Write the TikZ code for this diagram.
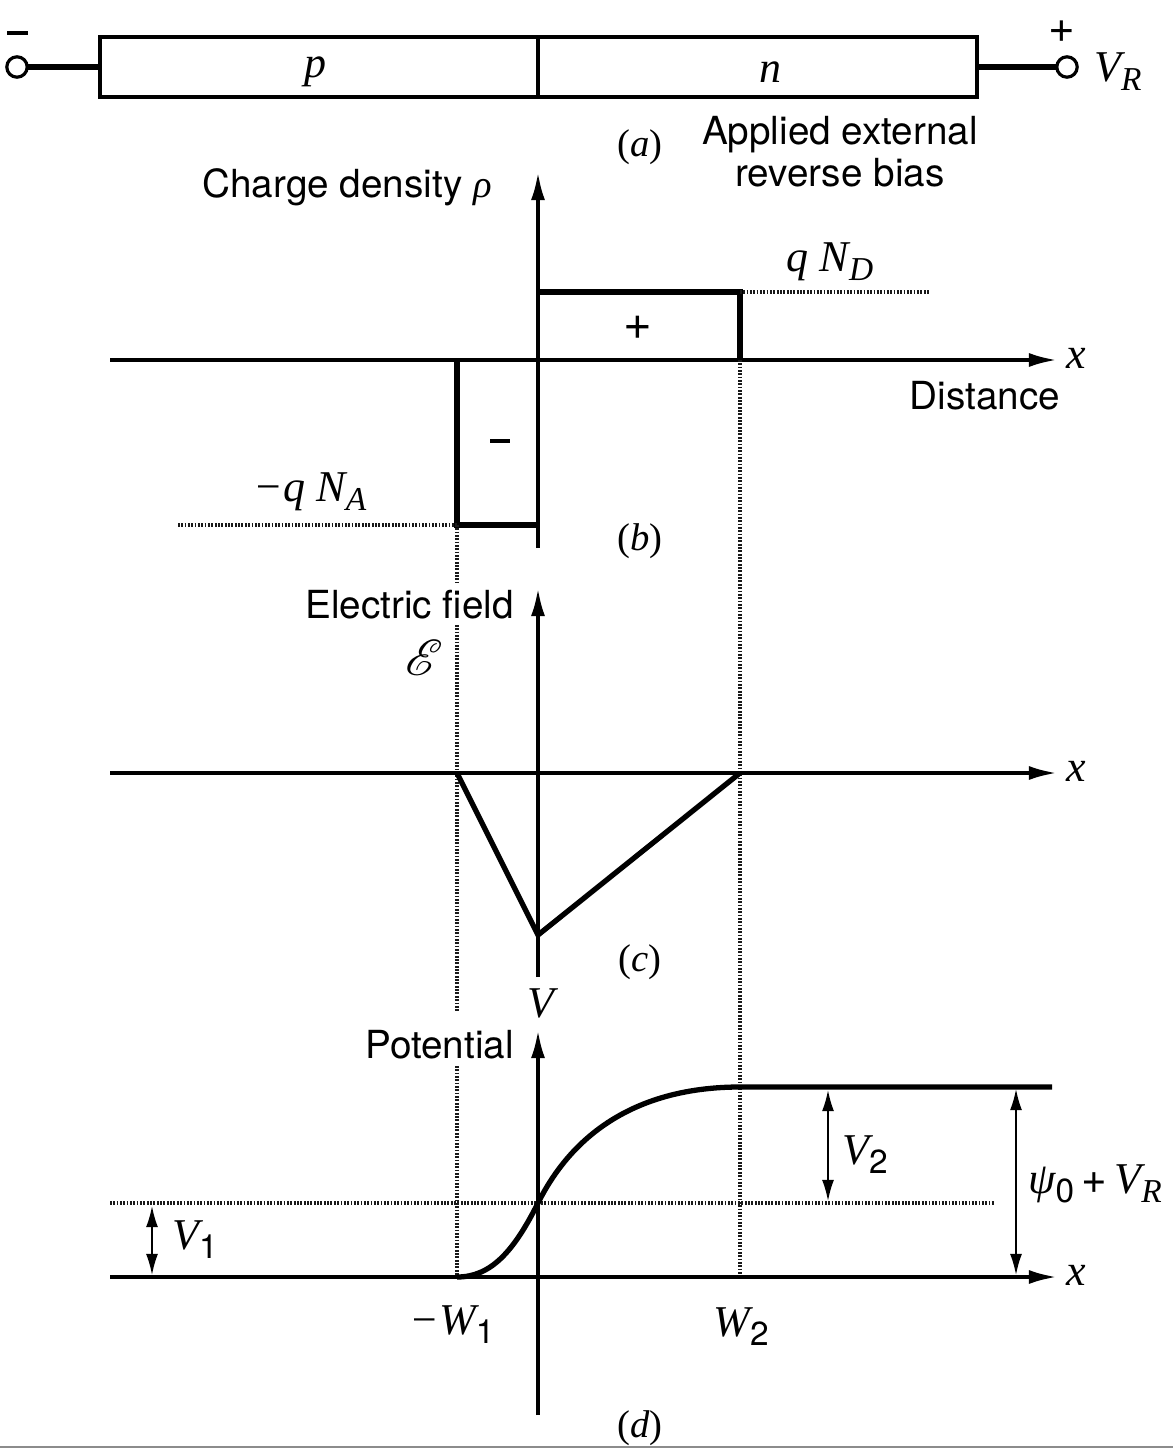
\documentclass[tikz,border=0pt]{standalone}
\usepackage{fontspec}
\setmainfont{TeX Gyre Heros}
\newfontfamily\tms{Liberation Serif}[ItalicFont={Liberation Serif Italic}]
\usepackage{mathrsfs}
\usetikzlibrary{arrows.meta}
\newcommand{\subi}[1]{\raisebox{-0.45ex}{\fontsize{9.5}{10}\selectfont #1}}
\newcommand{\subr}[1]{\raisebox{-0.45ex}{\normalfont\fontsize{9.5}{10}\selectfont #1}}
\begin{document}
\begin{tikzpicture}[x=0.01cm,y=-0.01cm,
  thickln/.style={line width=1.5pt},
  boxln/.style={line width=1.1pt},
  axisln/.style={line width=1.05pt,-{Latex[length=8pt,width=4pt]}},
  dots/.style={line width=1.15pt,dash pattern=on 0.5pt off 0.45pt,black!90},
  dimln/.style={line width=0.5pt,{Latex[length=6pt,width=3.4pt]}-{Latex[length=6pt,width=3.4pt]}},
  lbl/.style={font=\fontsize{11}{13}\selectfont,inner sep=1pt},
  var/.style={font=\fontsize{12.5}{14}\selectfont\tms\itshape,inner sep=1pt},
  term/.style={circle,draw,line width=0.9pt,minimum size=5.8pt,inner sep=0pt,fill=white}]
\useasboundingbox (0,0) rectangle (1173,1452);

% ---------- (a) circuit ----------
\coordinate (bl) at (100,67);
\coordinate (br) at (977,67);
\draw[thickln] (17,67) -- (bl);
\draw[thickln] (br) -- (1067,67);
\node[term] (tl) at (17,67) {};
\node[term] (tr) at (1067,67) {};
\draw[boxln] (100,37) rectangle (977,97);
\draw[boxln] (538,37) -- (538,97);
\draw[line width=0.9pt] (7,33) -- (28,33);
\node[font=\fontsize{13}{14}\selectfont,inner sep=0pt] (plus) at (1062,32) {+};
\node[var] (pl) at (315,72) {p};
\node[var] (nl) at (770,72) {n};
\node[var,anchor=west] (vr) at (1090,72) {V\subi{R}};
\node[lbl] (la) at (640,147) {\tms(\textit{a})};
\node[lbl,align=center] (bias) at (840,152) {Applied external\\[-1pt]reverse bias};

% ---------- (b) charge density ----------
\draw[axisln] (110,360) -- (1057,360);
\draw[axisln] (538,548) -- (538,172);
\node[var] (x1) at (1076,358) {x};
\node[lbl] (dist) at (985,396) {Distance};
\node[lbl,anchor=east] (cd) at (496,187) {Charge density {\tms\itshape ρ}};
\draw[thickln] (538,292) -- (740,292) -- (740,360);
\draw[dots] (740,292) -- (930,292);
\draw[thickln] (457,360) -- (457,525) -- (538,525);
\draw[dots] (178,525) -- (457,525);
\node[var] (nd) at (830,262) {q N\subi{D}};
\node[font=\fontsize{14}{15}\selectfont,inner sep=0pt] (pp) at (638,328) {+};
\draw[line width=1pt] (490,441) -- (510,441);
\node[var] (na) at (310,492) {−q N\subi{A}};
\node[lbl] (lb) at (640,541) {\tms(\textit{b})};

% dotted verticals
\draw[dots] (457,525) -- (457,582);
\draw[dots] (457,625) -- (457,1012);
\draw[dots] (457,1066) -- (457,1277);
\draw[dots] (740,360) -- (740,1277);

% ---------- (c) electric field ----------
\draw[axisln] (110,773) -- (1057,773);
\draw[axisln] (538,977) -- (538,588);
\node[var] (x2) at (1076,771) {x};
\node[lbl,anchor=east] (ef) at (518,605) {Electric field};
\node[inner sep=0pt] (ee) at (424,658) {\fontsize{14}{16}\selectfont$\mathscr{E}$};
\draw[thickln,line join=miter] (457,773) -- (538,935) -- (740,773);
\node[lbl] (lc) at (640,962) {\tms(\textit{c})};
\node[var] (vv) at (541,1003) {V};

% ---------- (d) potential ----------
\draw[axisln] (110,1277) -- (1057,1277);
\draw[axisln] (538,1415) -- (538,1030);
\node[var] (x3) at (1076,1275) {x};
\node[lbl,anchor=east] (pot) at (518,1045) {Potential};
\draw[dots] (110,1203) -- (995,1203);
\draw[thickln] (457,1277) .. controls (490,1277) and (513,1253) .. (538,1203)
  .. controls (588,1103) and (680,1087) .. (740,1087) -- (1052,1087);
\draw[dimln] (828,1090) -- (828,1201);
\node[var,anchor=west] (v2) at (838,1155) {V\subr{2}};
\draw[dimln] (152,1206) -- (152,1275);
\draw[dimln] (1016,1089) -- (1016,1275);
\node[var,anchor=west] (v1) at (168,1240) {V\subr{1}};
\node[var,anchor=east] (psi) at (1166,1184) {ψ\subr{0}\,{\normalfont +}\,V\subi{R}};
\node[var] (w1) at (452,1325) {−W\subr{1}};
\node[var] (w2) at (741,1327) {W\subr{2}};
\node[lbl] (ld) at (640,1428) {\tms(\textit{d})};

\draw[black!45,line width=0.5pt] (0,1447) -- (1173,1447);
\end{tikzpicture}
\end{document}
